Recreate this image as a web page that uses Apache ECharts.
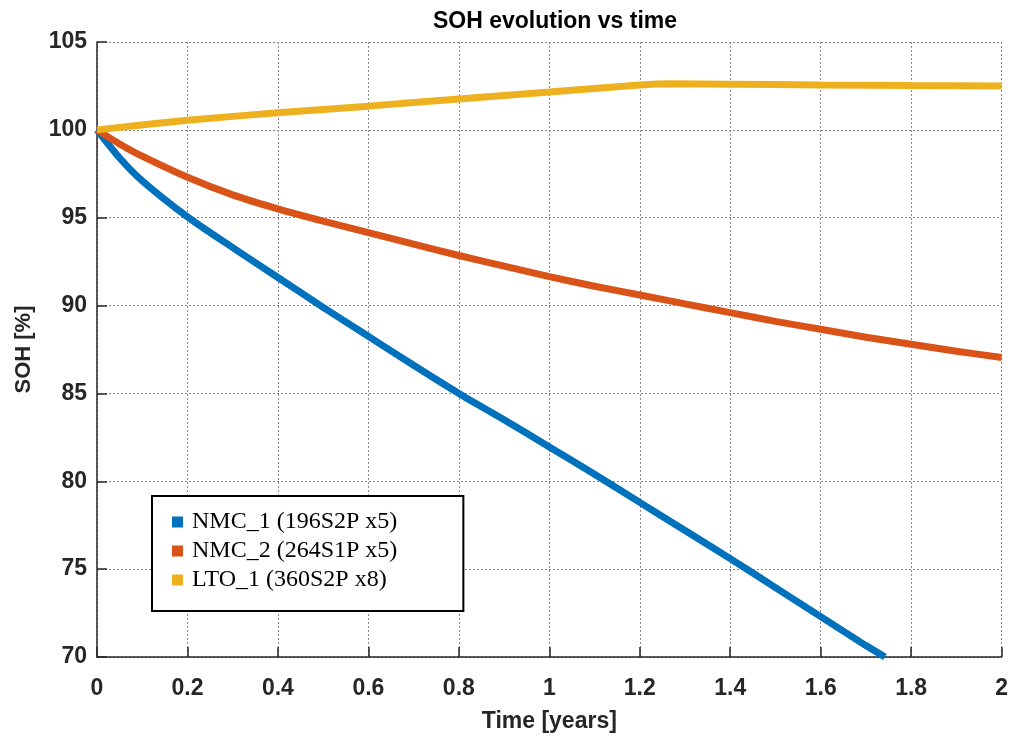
<!DOCTYPE html>
<html>
<head>
<meta charset="utf-8">
<script src="https://cdn.jsdelivr.net/npm/echarts@6/dist/echarts.min.js"></script>
<style>html,body{margin:0;padding:0;background:#fff}#c{width:1011px;height:738px}</style>
</head>
<body>
<div id="c"></div>
<script>
const titleText = 'SOH evolution vs time';
const xName = 'Time [years]';
const yName = 'SOH [%]';
const seriesNames = ['NMC_1 (196S2P x5)', 'NMC_2 (264S1P x5)', 'LTO_1 (360S2P x8)'];

const nmc1Time = [0, 0.05, 0.1, 0.2, 0.3, 0.4, 0.5, 0.6, 0.7, 0.8, 0.9, 1.0, 1.1, 1.2, 1.3, 1.4, 1.5, 1.6, 1.7, 1.742];
const nmc1Soh  = [100, 98.4, 97.1, 95.05, 93.3, 91.6, 89.9, 88.25, 86.6, 85.0, 83.5, 81.95, 80.4, 78.8, 77.2, 75.6, 73.95, 72.3, 70.65, 70.0];

const nmc2Time = [0, 0.05, 0.1, 0.2, 0.3, 0.4, 0.5, 0.6, 0.7, 0.8, 0.9, 1.0, 1.1, 1.2, 1.3, 1.4, 1.5, 1.6, 1.7, 1.8, 1.9, 2.0];
const nmc2Soh  = [100, 99.2, 98.5, 97.3, 96.3, 95.5, 94.8, 94.15, 93.5, 92.85, 92.25, 91.65, 91.1, 90.6, 90.1, 89.6, 89.1, 88.65, 88.2, 87.8, 87.4, 87.05];

const lto1Time = [0, 0.2, 0.4, 0.6, 0.8, 1.0, 1.2, 1.27, 1.4, 1.6, 1.8, 2.0];
const lto1Soh  = [100, 100.55, 100.97, 101.35, 101.76, 102.16, 102.55, 102.62, 102.6, 102.55, 102.52, 102.5];

const colors = ['#0072BD', '#D95319', '#EDB120'];

function pairs(xs, ys) { return xs.map((x, i) => [x, ys[i]]); }

const chart = echarts.init(document.getElementById('c'), null, {renderer: 'canvas'});
const axisFont = {fontFamily: 'Liberation Sans, Arial, sans-serif', fontWeight: 'bold', color: '#262626'};
const gridLine = {show: true, lineStyle: {color: '#8a8a8a', type: [2, 2], width: 1}};

chart.setOption({
  animation: false,
  backgroundColor: '#ffffff',
  title: {
    text: titleText, left: 550, top: 5, textAlign: 'center',
    textStyle: {fontFamily: 'Liberation Sans, Arial, sans-serif', fontWeight: 'bold', fontSize: 23, color: '#000'}
  },
  grid: {left: 97, right: 7, top: 42, bottom: 80, containLabel: false},
  legend: {
    orient: 'vertical', left: 152, top: 496,
    padding: [14, 66, 19, 20],
    backgroundColor: '#fff', borderColor: '#000', borderWidth: 2,
    itemWidth: 11, itemHeight: 11, itemGap: 5, icon: 'rect',
    textStyle: {fontFamily: 'Liberation Serif, Times New Roman, serif', fontSize: 24, color: '#000', lineHeight: 24, padding: [0, 0, 0, 4]},
    data: seriesNames
  },
  xAxis: {
    type: 'value', min: 0, max: 2, interval: 0.2,
    name: xName, nameLocation: 'middle', nameGap: 53,
    nameTextStyle: Object.assign({fontSize: 23}, axisFont),
    axisLine: {show: true, onZero: false, lineStyle: {color: '#262626', width: 1.5}},
    axisTick: {show: true, inside: true, length: 10, lineStyle: {color: '#262626', width: 1.5}},
    axisLabel: Object.assign({fontSize: 23, margin: 20}, axisFont),
    splitLine: gridLine
  },
  yAxis: {
    type: 'value', min: 70, max: 105, interval: 5,
    name: yName, nameLocation: 'middle', nameGap: 62, nameRotate: 90,
    nameTextStyle: Object.assign({fontSize: 22}, axisFont),
    axisLine: {show: true, onZero: false, lineStyle: {color: '#262626', width: 1.5}},
    axisTick: {show: true, inside: true, length: 10, lineStyle: {color: '#262626', width: 1.5}},
    axisLabel: Object.assign({fontSize: 23, margin: 10}, axisFont),
    splitLine: gridLine
  },
  series: [
    {name: seriesNames[0], type: 'line', data: pairs(nmc1Time, nmc1Soh), showSymbol: false, smooth: 0.25,
     lineStyle: {color: colors[0], width: 7}, itemStyle: {color: colors[0]}, z: 3},
    {name: seriesNames[1], type: 'line', data: pairs(nmc2Time, nmc2Soh), showSymbol: false, smooth: 0.25,
     lineStyle: {color: colors[1], width: 7}, itemStyle: {color: colors[1]}, z: 3},
    {name: seriesNames[2], type: 'line', data: pairs(lto1Time, lto1Soh), showSymbol: false, smooth: 0.25,
     lineStyle: {color: colors[2], width: 7}, itemStyle: {color: colors[2]}, z: 3}
  ]
});
</script>
</body>
</html>
